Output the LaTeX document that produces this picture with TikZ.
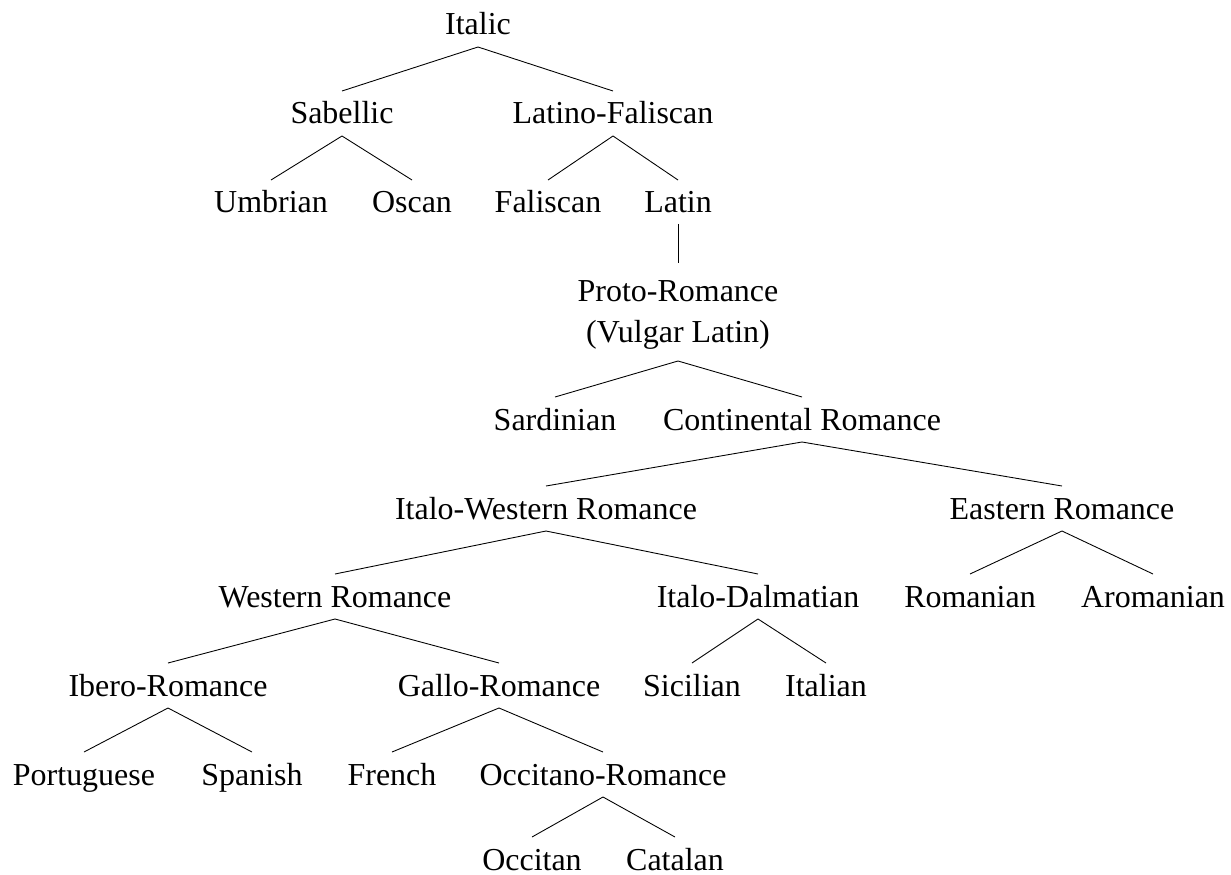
\documentclass[tikz,border=0pt]{standalone}
\usepackage{fontspec}
\setmainfont{Liberation Serif}
\begin{document}
\begin{tikzpicture}[x=0.02cm,y=-0.02cm,
    lang/.style={anchor=base,inner sep=0pt,font=\fontsize{18.2}{23.3}\selectfont},
    branch/.style={line width=0.5pt}]
    \useasboundingbox (0,0) rectangle (1231,875);
    % Draw top levels
    \node[lang] (italic) at (478,35) {Italic};
    \node[lang] (sabellic) at (342,124) {Sabellic};
    \node[lang] (latfal) at (613,124) {Latino-Faliscan};
    \node[lang] (umbrian) at (271,213) {Umbrian};
    \node[lang] (oscan) at (412,213) {Oscan};
    \node[lang] (faliscan) at (548,213) {Faliscan};
    \node[lang] (latin) at (678,213) {Latin};
    % Draw proto-language (base is its last line)
    \node[lang,align=center] (proto) at (678,342) {Proto-Romance\\(Vulgar Latin)};
    \node[lang] (sardinian) at (555,430) {Sardinian};
    \node[lang] (continental) at (802,430) {Continental Romance};
    % Draw middle levels
    \node[lang] (italowest) at (546,519) {Italo-Western Romance};
    \node[lang] (eastern) at (1062,519) {Eastern Romance};
    \node[lang] (western) at (335,607) {Western Romance};
    \node[lang] (italodal) at (758,607) {Italo-Dalmatian};
    \node[lang] (romanian) at (970,607) {Romanian};
    \node[lang] (aromanian) at (1153,607) {Aromanian};
    \node[lang] (ibero) at (168,696) {Ibero-Romance};
    \node[lang] (gallo) at (499,696) {Gallo-Romance};
    \node[lang] (sicilian) at (692,696) {Sicilian};
    \node[lang] (italian) at (826,696) {Italian};
    % Draw leaves
    \node[lang] (portuguese) at (84,785) {Portuguese};
    \node[lang] (spanish) at (252,785) {Spanish};
    \node[lang] (french) at (392,785) {French};
    \node[lang] (occrom) at (603,785) {Occitano-Romance};
    \node[lang] (occitan) at (532,870) {Occitan};
    \node[lang] (catalan) at (675,870) {Catalan};
    % Draw branches
    \foreach \p/\c in {italic/sabellic,italic/latfal,sabellic/umbrian,sabellic/oscan,
        latfal/faliscan,latfal/latin,continental/italowest,continental/eastern,
        italowest/western,italowest/italodal,eastern/romanian,eastern/aromanian,
        western/ibero,western/gallo,italodal/sicilian,italodal/italian,
        ibero/portuguese,ibero/spanish,gallo/french,gallo/occrom,
        occrom/occitan,occrom/catalan}
        \draw[branch] ([yshift=-0.24cm]\p.base) -- ([yshift=0.66cm]\c.base);
    \draw[branch] ([yshift=-0.22cm]latin.base) -- ([yshift=1.58cm]proto.base);
    \draw[branch] ([yshift=-0.38cm]proto.base) -- ([yshift=0.66cm]sardinian.base);
    \draw[branch] ([yshift=-0.38cm]proto.base) -- ([yshift=0.66cm]continental.base);
\end{tikzpicture}
\end{document}
